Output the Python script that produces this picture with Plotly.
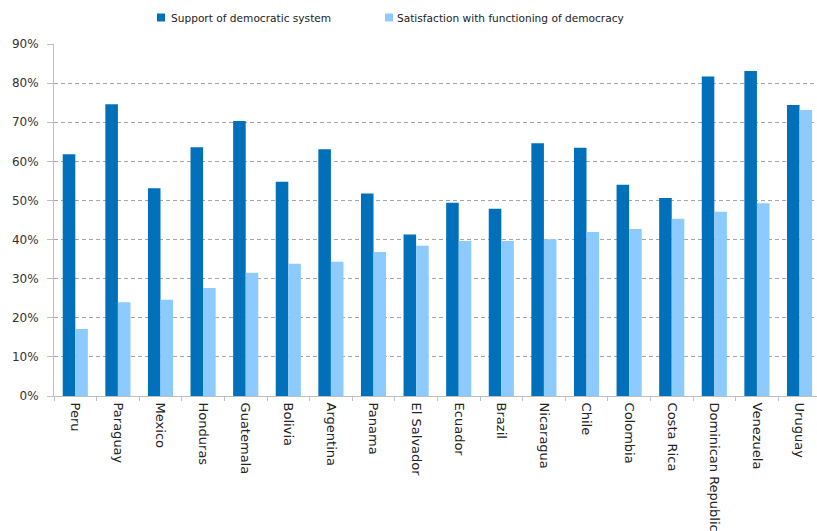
import plotly.graph_objects as go

countries = ["Peru", "Paraguay", "Mexico", "Honduras", "Guatemala", "Bolivia", "Argentina",
             "Panama", "El Salvador", "Ecuador", "Brazil", "Nicaragua", "Chile", "Colombia",
             "Costa Rica", "Dominican Republic", "Venezuela", "Uruguay"]
support = [0.618, 0.746, 0.531, 0.636, 0.703, 0.548, 0.631, 0.518, 0.413, 0.494, 0.479,
           0.646, 0.635, 0.540, 0.506, 0.817, 0.831, 0.744]
satisfaction = [0.171, 0.240, 0.246, 0.276, 0.315, 0.338, 0.343, 0.368, 0.384, 0.396, 0.396,
                0.401, 0.419, 0.427, 0.453, 0.471, 0.493, 0.731]
series_names = ["Support of democratic system", "Satisfaction with functioning of democracy"]

DARK = "#0070BA"
LIGHT = "#8DCBFF"
FONT = "DejaVu Sans"

W, H = 817, 531
ML, MR, MT, MB = 54, 0, 44, 135
PW, PH = W - ML - MR, H - MT - MB


def px_x(x):
    return (x - ML) / PW


def px_y(y):
    return (H - MB - y) / PH


fig = go.Figure()
fig.add_trace(go.Bar(x=countries, y=support, name=series_names[0],
                     marker=dict(color=DARK, line=dict(width=0))))
fig.add_trace(go.Bar(x=countries, y=satisfaction, name=series_names[1],
                     marker=dict(color=LIGHT, line=dict(width=0))))

# manual legend (squares + text) at the top
legend_pos = [(157, 169), (385, 395)]
for (sq_x, tx_x), name, col in zip(legend_pos, series_names, [DARK, LIGHT]):
    fig.add_shape(type="rect", xref="paper", yref="paper",
                  x0=px_x(sq_x), x1=px_x(sq_x + 8), y0=px_y(21.5), y1=px_y(13.5),
                  fillcolor=col, line=dict(width=0))
    fig.add_annotation(text=name, xref="paper", yref="paper", x=px_x(tx_x), y=px_y(17.5),
                       xanchor="left", yanchor="middle", showarrow=False,
                       font=dict(family=FONT, size=10.6, color="#222222"))

fig.update_layout(
    width=W, height=H,
    margin=dict(l=ML, r=MR, t=MT, b=MB),
    paper_bgcolor="white", plot_bgcolor="white",
    barmode="group", bargap=0.41, bargroupgap=0,
    font=dict(family=FONT, size=12, color="#333333"),
    showlegend=False,
    xaxis=dict(range=[-0.5, 17.41], tickangle=90, tickson="boundaries", ticks="outside",
               ticklen=4, tickcolor="#BFBFBF", showline=True, linecolor="#BFBFBF", linewidth=1,
               showgrid=False, ticklabelstandoff=3, tickfont=dict(size=13, color="#222222")),
    yaxis=dict(range=[0, 0.9], dtick=0.1, tickformat=".0%", ticks="outside", ticklen=6,
               tickcolor="#BFBFBF", showline=True, linecolor="#BFBFBF", linewidth=1,
               showgrid=True, gridcolor="#A6A6A6", griddash="4px,3px", gridwidth=1,
               zeroline=False, ticklabelstandoff=6, tickfont=dict(size=12, color="#333333")),
)

fig.write_html("out.html")
